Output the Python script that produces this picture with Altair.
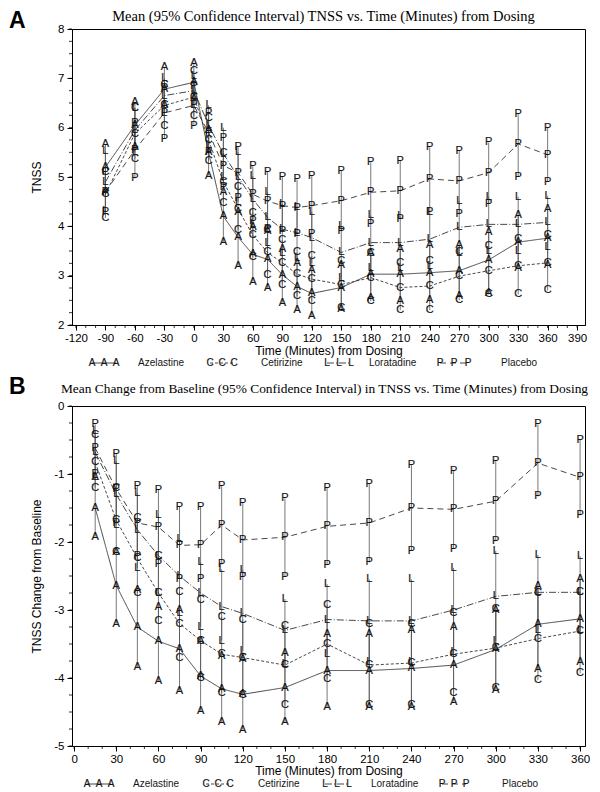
import altair as alt
import pandas as pd

# ---------------- Panel A : mean TNSS (95% CI) ----------------
TIMES_A = [-90, -60, -30, 0, 15, 30, 45, 60, 75, 90, 105, 120, 150, 180, 210, 240, 270, 300, 330, 360]

AZE_A_MEAN = [5.20, 6.05, 6.78, 6.92, 5.50, 4.20, 3.78, 3.43, 3.33, 3.02, 2.78, 2.64, 2.76, 3.03, 3.03, 3.06, 3.10, 3.32, 3.68, 3.76]
AZE_A_LO = [4.70, 5.60, 6.45, 6.60, 5.03, 3.68, 3.20, 2.88, 2.74, 2.45, 2.30, 2.18, 2.32, 2.55, 2.48, 2.50, 2.58, 2.65, 3.15, 3.22]
AZE_A_HI = [5.66, 6.52, 7.22, 7.32, 5.95, 4.70, 4.30, 3.98, 3.90, 3.55, 3.25, 3.12, 3.22, 3.45, 3.55, 3.62, 3.62, 3.88, 4.22, 4.35]

CET_A_MEAN = [4.65, 5.88, 6.45, 6.62, 5.75, 4.90, 4.35, 3.82, 3.47, 3.26, 3.03, 2.93, 2.82, 2.96, 2.76, 2.79, 2.99, 3.10, 3.20, 3.26]
CET_A_LO = [4.17, 5.37, 6.03, 6.23, 5.33, 4.48, 3.92, 3.38, 3.02, 2.82, 2.58, 2.48, 2.35, 2.48, 2.30, 2.30, 2.50, 2.62, 2.62, 2.70]
CET_A_HI = [5.10, 6.40, 6.87, 7.15, 6.20, 5.48, 4.80, 4.28, 3.92, 3.72, 3.47, 3.40, 3.30, 3.45, 3.25, 3.30, 3.48, 3.60, 3.75, 3.82]

LOR_A_MEAN = [4.90, 5.95, 6.65, 6.75, 6.05, 5.47, 5.00, 4.55, 4.18, 3.94, 3.87, 3.77, 3.47, 3.67, 3.67, 3.74, 3.98, 4.04, 4.04, 4.08]
LOR_A_LO = [4.31, 5.50, 6.30, 6.45, 5.65, 5.00, 4.50, 4.05, 3.66, 3.45, 3.35, 3.25, 2.95, 3.15, 3.15, 3.20, 3.45, 3.50, 3.50, 3.58]
LOR_A_HI = [5.52, 6.40, 7.00, 7.05, 6.45, 6.00, 5.50, 5.02, 4.70, 4.45, 4.40, 4.30, 4.00, 4.22, 4.20, 4.30, 4.52, 4.60, 4.60, 4.62]

PLA_A_MEAN = [4.70, 5.55, 6.30, 6.45, 5.90, 5.23, 5.09, 4.65, 4.51, 4.42, 4.38, 4.42, 4.52, 4.69, 4.72, 4.96, 4.92, 5.09, 5.67, 5.45]
PLA_A_LO = [4.30, 4.97, 5.77, 6.03, 5.50, 4.80, 4.58, 4.10, 3.95, 3.90, 3.85, 3.84, 3.90, 4.04, 4.14, 4.30, 4.25, 4.45, 5.00, 4.90]
PLA_A_HI = [5.10, 6.10, 6.80, 6.85, 6.30, 5.80, 5.60, 5.22, 5.10, 5.00, 4.95, 5.03, 5.13, 5.30, 5.33, 5.60, 5.53, 5.70, 6.28, 6.00]

# ---------------- Panel B : change from baseline (95% CI) ----------------
TIMES_B = [15, 30, 45, 60, 75, 90, 105, 120, 150, 180, 210, 240, 270, 300, 330, 360]

AZE_B_MEAN = [-1.50, -2.64, -3.25, -3.46, -3.57, -3.97, -4.16, -4.24, -4.14, -3.89, -3.89, -3.86, -3.81, -3.58, -3.21, -3.13]
AZE_B_LO = [-1.92, -3.20, -3.84, -4.05, -4.19, -4.49, -4.65, -4.76, -4.65, -4.43, -4.43, -4.43, -4.35, -4.17, -3.87, -3.77]
AZE_B_HI = [-1.05, -2.14, -2.70, -2.95, -3.00, -3.45, -3.67, -3.72, -3.63, -3.35, -3.35, -3.30, -3.25, -3.00, -2.64, -2.54]

CET_B_MEAN = [-0.83, -1.68, -2.24, -2.75, -3.20, -3.45, -3.65, -3.70, -3.81, -3.50, -3.81, -3.78, -3.65, -3.56, -3.42, -3.31]
CET_B_LO = [-1.20, -2.15, -2.75, -3.16, -3.70, -4.00, -4.22, -4.25, -4.40, -4.02, -4.40, -4.40, -4.22, -4.14, -4.03, -3.93]
CET_B_HI = [-0.42, -1.20, -1.65, -2.20, -2.73, -2.86, -3.10, -3.14, -3.24, -2.92, -3.20, -3.20, -3.05, -2.98, -2.75, -2.73]

LOR_B_MEAN = [-0.68, -1.30, -1.82, -2.20, -2.50, -2.75, -2.95, -3.05, -3.30, -3.14, -3.16, -3.16, -3.00, -2.80, -2.74, -2.74]
LOR_B_LO = [-1.05, -1.75, -2.38, -2.75, -3.05, -3.25, -3.45, -3.60, -3.80, -3.65, -3.77, -3.77, -3.62, -3.45, -3.30, -3.30]
LOR_B_HI = [-0.37, -0.81, -1.28, -1.61, -1.95, -2.30, -2.40, -2.41, -2.84, -2.62, -2.55, -2.55, -2.38, -2.13, -2.19, -2.21]

PLA_B_MEAN = [-0.62, -1.22, -1.72, -1.78, -2.05, -2.04, -1.75, -1.97, -1.93, -1.77, -1.72, -1.50, -1.52, -1.40, -0.84, -1.05]
PLA_B_LO = [-1.00, -1.72, -2.20, -2.33, -2.55, -2.54, -2.33, -2.52, -2.51, -2.34, -2.30, -2.13, -2.10, -1.99, -1.33, -1.61]
PLA_B_HI = [-0.27, -0.70, -1.17, -1.23, -1.48, -1.48, -1.17, -1.42, -1.36, -1.20, -1.14, -0.87, -0.95, -0.81, -0.27, -0.50]

DRUGS = ["Azelastine", "Cetirizine", "Loratadine", "Placebo"]
LETTERS = ["A", "C", "L", "P"]

X_TICKS_A = [-120, -90, -60, -30, 0, 30, 60, 90, 120, 150, 180, 210, 240, 270, 300, 330, 360, 390]
Y_TICKS_A = [2, 3, 4, 5, 6, 7, 8]
X_TICKS_B = [0, 30, 60, 90, 120, 150, 180, 210, 240, 270, 300, 330, 360]
Y_TICKS_B = [-5, -4, -3, -2, -1, 0]

TITLE_A = "Mean (95% Confidence Interval) TNSS vs. Time (Minutes) from Dosing"
TITLE_B = "Mean Change from Baseline (95% Confidence Interval) in TNSS vs. Time (Minutes) from Dosing"

# ---------------- styling ----------------
DASHES = [[1, 0], [3, 2], [7, 2, 1, 2], [6, 4]]
SANS = "Liberation Sans"
SERIF = "Liberation Serif"
INK = "#151515"
ONE = pd.DataFrame({"one": [1]})
DASH_SCALE = alt.Scale(domain=DRUGS, range=DASHES)
LETTER_STYLE = dict(font=SANS, color=INK, stroke=INK, strokeWidth=0.2,
                    baseline="middle", align="center")


def tables(times, series):
    line_rows, letter_rows = [], []
    for drug, letter, (mean, lo, hi) in zip(DRUGS, LETTERS, series):
        for t, m, l, h in zip(times, mean, lo, hi):
            line_rows.append({"drug": drug, "t": t, "mean": m, "lo": l, "hi": h})
            for v in (h, m, l):
                letter_rows.append({"drug": drug, "t": t, "v": v, "letter": letter})
    return pd.DataFrame(line_rows), pd.DataFrame(letter_rows)


def frange(a, b, step):
    out, v = [], a
    while v <= b + 1e-9:
        out.append(round(v, 4))
        v += step
    return out


def panel(times, series, W, H, xdom, xticks, xminor, ydom, yticks, yminor,
          ytitle, title, title_size, title_dx, title_y, tag, tag_y, xtitle_y,
          leg_letters, leg_labels, leg_y):
    df, txt = tables(times, series)
    xs = alt.Scale(domain=xdom, nice=False, zero=False)
    ys = alt.Scale(domain=ydom, nice=False, zero=False)
    xaxis = alt.Axis(values=xticks, title="Time (Minutes) from Dosing", grid=False,
                     tickSize=5, labelPadding=2, labelExpr="'' + datum.value",
                     titleY=xtitle_y, titleBaseline="alphabetic")
    yaxis = alt.Axis(values=yticks, title=ytitle, grid=False, tickSize=5,
                     labelPadding=3, labelExpr="'' + datum.value",
                     titleX=-36, titleY=H / 2, titleBaseline="middle", titleAlign="center")

    def X(f):
        return alt.X(f, type="quantitative", scale=xs, axis=xaxis)

    def Y(f):
        return alt.Y(f, type="quantitative", scale=ys, axis=yaxis)

    bars = alt.Chart(df).mark_rule(color="#555555", strokeWidth=0.8).encode(
        x=X("t"), y=Y("lo"), y2="hi")
    lines = alt.Chart(df).mark_line(color="#333333", strokeWidth=0.9).encode(
        x=X("t"), y=Y("mean"),
        strokeDash=alt.StrokeDash("drug:N", scale=DASH_SCALE, legend=None),
        detail="drug:N")
    marks = alt.Chart(txt).mark_text(fontSize=11, **LETTER_STYLE).encode(
        x=X("t"), y=Y("v"), text="letter:N")
    xmin = alt.Chart(pd.DataFrame({"m": xminor})).mark_rule(color="black", strokeWidth=0.8).encode(
        x=X("m"), y=alt.value(H), y2=alt.value(H + 3))
    ymin = alt.Chart(pd.DataFrame({"m": yminor})).mark_rule(color="black", strokeWidth=0.8).encode(
        y=Y("m"), x=alt.value(0), x2=alt.value(-3))

    layers = [xmin, ymin, bars, lines, marks]

    # panel tag and title
    layers.append(alt.Chart(ONE).mark_text(font=SANS, fontSize=23, fontWeight="bold",
                                           align="left", baseline="top", color="black").encode(
        x=alt.value(-63), y=alt.value(tag_y), text=alt.value(tag)))
    layers.append(alt.Chart(ONE).mark_text(font=SERIF, fontSize=title_size, align="center",
                                           baseline="alphabetic", color="black").encode(
        x=alt.value(W / 2 + title_dx), y=alt.value(title_y), text=alt.value(title)))

    # hand-drawn legend beneath the axis
    for drug, letter, xs3, lx in zip(DRUGS, LETTERS, leg_letters, leg_labels):
        seg = pd.DataFrame({"drug": [drug]})
        layers.append(alt.Chart(seg).mark_rule(color="#333333", strokeWidth=0.9).encode(
            x=alt.value(xs3[0]), x2=alt.value(xs3[-1]), y=alt.value(leg_y),
            strokeDash=alt.StrokeDash("drug:N", scale=DASH_SCALE, legend=None)))
        for px in xs3:
            layers.append(alt.Chart(ONE).mark_text(fontSize=10, **LETTER_STYLE).encode(
                x=alt.value(px), y=alt.value(leg_y), text=alt.value(letter)))
        layers.append(alt.Chart(ONE).mark_text(font=SANS, fontSize=10, color=INK,
                                               baseline="middle", align="left").encode(
            x=alt.value(lx), y=alt.value(leg_y), text=alt.value(drug)))

    return alt.layer(*layers).properties(width=W, height=H)


W = 513
HA, HB = 296, 340

panel_a = panel(
    TIMES_A,
    [(AZE_A_MEAN, AZE_A_LO, AZE_A_HI), (CET_A_MEAN, CET_A_LO, CET_A_HI),
     (LOR_A_MEAN, LOR_A_LO, LOR_A_HI), (PLA_A_MEAN, PLA_A_LO, PLA_A_HI)],
    W, HA, [-124, 398], X_TICKS_A, frange(-120, 390, 10), [2, 8], Y_TICKS_A, frange(2, 8, 0.25),
    "TNSS", TITLE_A, 14.5, -5, -8, "A", -19, 29,
    [[20, 32, 44], [138, 150, 162], [255, 267, 279], [368, 382, 396]],
    [66, 189, 297, 429], HA + 38)

panel_b = panel(
    TIMES_B,
    [(AZE_B_MEAN, AZE_B_LO, AZE_B_HI), (CET_B_MEAN, CET_B_LO, CET_B_HI),
     (LOR_B_MEAN, LOR_B_LO, LOR_B_HI), (PLA_B_MEAN, PLA_B_LO, PLA_B_HI)],
    W, HB, [-1.5, 363.5], X_TICKS_B, frange(0, 360, 10), [-5, 0], Y_TICKS_B, frange(-5, 0, 0.25),
    "TNSS Change from Baseline", TITLE_B, 13.4, -4, -13, "B", -30, 28,
    [[15, 27, 39], [134, 146, 158], [253, 265, 277], [370, 382, 394]],
    [61, 186, 299, 430], HB + 38)

chart = alt.vconcat(panel_a, panel_b, spacing=81).properties(
    bounds="flush", padding=0, background="white"
).configure_view(
    stroke="black", strokeWidth=1
).configure_axis(
    labelFont=SANS, labelFontSize=11.5, labelColor="black",
    titleFont=SANS, titleFontSize=12, titleFontWeight="normal", titleColor="black",
    domainColor="black", tickColor="black", domainWidth=1, tickWidth=1
)

chart.save("out.html", embed_options={"renderer": "svg", "actions": False})
